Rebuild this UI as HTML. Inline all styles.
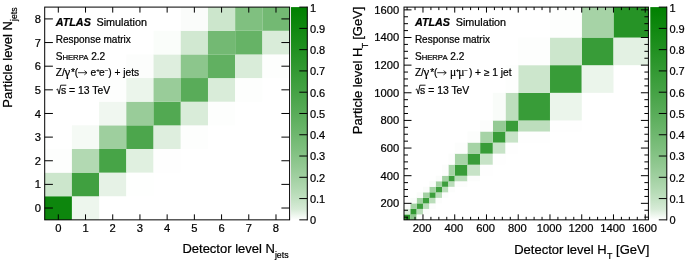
<!DOCTYPE html>
<html><head><meta charset="utf-8"><title>Response matrices</title>
<style>
html,body{margin:0;padding:0;background:#fff;}
body{width:685px;height:262px;overflow:hidden;}
svg{display:block;will-change:transform;font-family:"Liberation Sans",sans-serif;}
text{fill:#000;stroke:#000;stroke-width:0.22px;}
</style></head><body>
<svg width="685" height="262" viewBox="0 0 685 262">
<defs><linearGradient id="g1" x1="0" y1="1" x2="0" y2="0"><stop offset="0.00" stop-color="#ffffff"/><stop offset="0.05" stop-color="#d7ebd7"/><stop offset="0.10" stop-color="#c2e1c2"/><stop offset="0.15" stop-color="#b0d8b0"/><stop offset="0.20" stop-color="#a1d0a1"/><stop offset="0.25" stop-color="#93c993"/><stop offset="0.30" stop-color="#86c386"/><stop offset="0.35" stop-color="#7abd7a"/><stop offset="0.40" stop-color="#6fb76f"/><stop offset="0.45" stop-color="#64b264"/><stop offset="0.50" stop-color="#59ac59"/><stop offset="0.55" stop-color="#4fa74f"/><stop offset="0.60" stop-color="#45a245"/><stop offset="0.65" stop-color="#3c9e3c"/><stop offset="0.70" stop-color="#339933"/><stop offset="0.75" stop-color="#2a952a"/><stop offset="0.80" stop-color="#219021"/><stop offset="0.85" stop-color="#188c18"/><stop offset="0.90" stop-color="#108810"/><stop offset="0.95" stop-color="#088408"/><stop offset="1.00" stop-color="#008000"/></linearGradient></defs>
<rect width="685" height="262" fill="#fff"/>
<rect x="44.70" y="196.21" width="27.26" height="23.69" fill="#0d860d"/>
<rect x="71.91" y="196.21" width="27.26" height="23.69" fill="#edf6ed"/>
<rect x="44.70" y="172.57" width="27.26" height="23.69" fill="#cce6cc"/>
<rect x="71.91" y="172.57" width="27.26" height="23.69" fill="#40a040"/>
<rect x="99.12" y="172.57" width="27.26" height="23.69" fill="#e6f2e6"/>
<rect x="126.33" y="172.57" width="27.26" height="23.69" fill="#fefffe"/>
<rect x="44.70" y="148.93" width="27.26" height="23.69" fill="#fdfefd"/>
<rect x="71.91" y="148.93" width="27.26" height="23.69" fill="#b2d9b2"/>
<rect x="99.12" y="148.93" width="27.26" height="23.69" fill="#47a447"/>
<rect x="126.33" y="148.93" width="27.26" height="23.69" fill="#e0f0e0"/>
<rect x="153.54" y="148.93" width="27.26" height="23.69" fill="#fefefe"/>
<rect x="71.91" y="125.29" width="27.26" height="23.69" fill="#f5faf5"/>
<rect x="99.12" y="125.29" width="27.26" height="23.69" fill="#9ecf9e"/>
<rect x="126.33" y="125.29" width="27.26" height="23.69" fill="#4ca64c"/>
<rect x="153.54" y="125.29" width="27.26" height="23.69" fill="#deeede"/>
<rect x="180.76" y="125.29" width="27.26" height="23.69" fill="#fdfefd"/>
<rect x="99.12" y="101.66" width="27.26" height="23.69" fill="#f0f7f0"/>
<rect x="126.33" y="101.66" width="27.26" height="23.69" fill="#99cc99"/>
<rect x="153.54" y="101.66" width="27.26" height="23.69" fill="#52a952"/>
<rect x="180.76" y="101.66" width="27.26" height="23.69" fill="#d9ecd9"/>
<rect x="207.97" y="101.66" width="27.26" height="23.69" fill="#fdfefd"/>
<rect x="99.12" y="78.02" width="27.26" height="23.69" fill="#fdfefd"/>
<rect x="126.33" y="78.02" width="27.26" height="23.69" fill="#ebf5eb"/>
<rect x="153.54" y="78.02" width="27.26" height="23.69" fill="#99cc99"/>
<rect x="180.76" y="78.02" width="27.26" height="23.69" fill="#59ac59"/>
<rect x="207.97" y="78.02" width="27.26" height="23.69" fill="#d9ecd9"/>
<rect x="235.18" y="78.02" width="27.26" height="23.69" fill="#fdfefd"/>
<rect x="126.33" y="54.38" width="27.26" height="23.69" fill="#fcfdfc"/>
<rect x="153.54" y="54.38" width="27.26" height="23.69" fill="#deeede"/>
<rect x="180.76" y="54.38" width="27.26" height="23.69" fill="#8cc68c"/>
<rect x="207.97" y="54.38" width="27.26" height="23.69" fill="#61b061"/>
<rect x="235.18" y="54.38" width="27.26" height="23.69" fill="#d9ecd9"/>
<rect x="262.39" y="54.38" width="27.26" height="23.69" fill="#fdfefd"/>
<rect x="153.54" y="30.74" width="27.26" height="23.69" fill="#fafdfa"/>
<rect x="180.76" y="30.74" width="27.26" height="23.69" fill="#d1e8d1"/>
<rect x="207.97" y="30.74" width="27.26" height="23.69" fill="#73b973"/>
<rect x="235.18" y="30.74" width="27.26" height="23.69" fill="#66b366"/>
<rect x="262.39" y="30.74" width="27.26" height="23.69" fill="#d9ecd9"/>
<rect x="180.76" y="7.10" width="27.26" height="23.69" fill="#fafcfa"/>
<rect x="207.97" y="7.10" width="27.26" height="23.69" fill="#cce6cc"/>
<rect x="235.18" y="7.10" width="27.26" height="23.69" fill="#80c080"/>
<rect x="262.39" y="7.10" width="27.26" height="23.69" fill="#73b973"/>
<text x="58.31" y="232.2" text-anchor="middle" font-size="11.2">0</text>
<text x="41.10" y="212.13" text-anchor="end" font-size="11.2">0</text>
<text x="85.52" y="232.2" text-anchor="middle" font-size="11.2">1</text>
<text x="41.10" y="188.49" text-anchor="end" font-size="11.2">1</text>
<text x="112.73" y="232.2" text-anchor="middle" font-size="11.2">2</text>
<text x="41.10" y="164.85" text-anchor="end" font-size="11.2">2</text>
<text x="139.94" y="232.2" text-anchor="middle" font-size="11.2">3</text>
<text x="41.10" y="141.21" text-anchor="end" font-size="11.2">3</text>
<text x="167.15" y="232.2" text-anchor="middle" font-size="11.2">4</text>
<text x="41.10" y="117.57" text-anchor="end" font-size="11.2">4</text>
<text x="194.36" y="232.2" text-anchor="middle" font-size="11.2">5</text>
<text x="41.10" y="93.94" text-anchor="end" font-size="11.2">5</text>
<text x="221.57" y="232.2" text-anchor="middle" font-size="11.2">6</text>
<text x="41.10" y="70.30" text-anchor="end" font-size="11.2">6</text>
<text x="248.78" y="232.2" text-anchor="middle" font-size="11.2">7</text>
<text x="41.10" y="46.66" text-anchor="end" font-size="11.2">7</text>
<text x="275.99" y="232.2" text-anchor="middle" font-size="11.2">8</text>
<text x="41.10" y="23.02" text-anchor="end" font-size="11.2">8</text>
<rect x="44.70" y="7.10" width="244.90" height="212.75" fill="none" stroke="#000" stroke-width="1"/>
<rect x="291.00" y="7.10" width="16.30" height="212.75" fill="url(#g1)"/>
<line x1="307.30" y1="6.60" x2="307.30" y2="220.35" stroke="#000" stroke-width="1"/>
<line x1="299.30" y1="219.85" x2="307.30" y2="219.85" stroke="#000" stroke-width="1"/>
<text x="309.90" y="224.25" font-size="11.0">0</text>
<line x1="299.30" y1="198.57" x2="307.30" y2="198.57" stroke="#000" stroke-width="1"/>
<text x="309.90" y="202.97" font-size="11.0">0.1</text>
<line x1="299.30" y1="177.30" x2="307.30" y2="177.30" stroke="#000" stroke-width="1"/>
<text x="309.90" y="181.70" font-size="11.0">0.2</text>
<line x1="299.30" y1="156.02" x2="307.30" y2="156.02" stroke="#000" stroke-width="1"/>
<text x="309.90" y="160.42" font-size="11.0">0.3</text>
<line x1="299.30" y1="134.75" x2="307.30" y2="134.75" stroke="#000" stroke-width="1"/>
<text x="309.90" y="139.15" font-size="11.0">0.4</text>
<line x1="299.30" y1="113.47" x2="307.30" y2="113.47" stroke="#000" stroke-width="1"/>
<text x="309.90" y="117.88" font-size="11.0">0.5</text>
<line x1="299.30" y1="92.20" x2="307.30" y2="92.20" stroke="#000" stroke-width="1"/>
<text x="309.90" y="96.60" font-size="11.0">0.6</text>
<line x1="299.30" y1="70.92" x2="307.30" y2="70.92" stroke="#000" stroke-width="1"/>
<text x="309.90" y="75.32" font-size="11.0">0.7</text>
<line x1="299.30" y1="49.65" x2="307.30" y2="49.65" stroke="#000" stroke-width="1"/>
<text x="309.90" y="54.05" font-size="11.0">0.8</text>
<line x1="299.30" y1="28.38" x2="307.30" y2="28.38" stroke="#000" stroke-width="1"/>
<text x="309.90" y="32.77" font-size="11.0">0.9</text>
<line x1="299.30" y1="7.10" x2="307.30" y2="7.10" stroke="#000" stroke-width="1"/>
<text x="309.90" y="11.50" font-size="11.0">1</text>
<text x="288.60" y="253.2" text-anchor="end" font-size="13">Detector level N<tspan font-size="8.8" dy="4.5">jets</tspan></text>
<text transform="translate(11.8,7.30) rotate(-90)" text-anchor="end" font-size="13">Particle level N<tspan font-size="8.8" dy="4.8">jets</tspan></text>
<text x="55.70" y="26" font-size="10.8"><tspan font-weight="bold" font-style="italic">ATLAS</tspan><tspan dx="5.6">Simulation</tspan></text>
<text x="55.70" y="43" font-size="10">Response matrix</text>
<text x="55.70" y="60.4" font-size="10.1">S<tspan font-size="7.7">HERPA</tspan> 2.2</text>
<g font-size="10.2"><text x="55.70" y="75.8">Z/</text><text x="64.40" y="75.8" font-family="Liberation Serif" font-size="13">γ</text><text x="71.00" y="75.8">*</text><text x="74.70" y="75.8">(</text><path d="M78.00 72.70H87.00M84.40 70.60L87.00 72.70L84.40 74.80" fill="none" stroke="#000" stroke-width="0.8"/><text x="90.60" y="75.8">e</text><text x="96.20" y="71.6" font-size="6">+</text><text x="99.00" y="75.8">e</text><text x="104.70" y="71.6" font-size="6">−</text><text x="108.30" y="75.8">) + jets</text></g>
<text x="60.90" y="94.0" font-size="10.4">s = 13 TeV</text>
<path d="M56.50 89.6 L57.60 89 L59.10 94.0 L60.70 85.2 L66.30 85.2" fill="none" stroke="#000" stroke-width="0.9"/>
<rect x="404.00" y="214.39" width="6.32" height="5.51" fill="#269326"/>
<rect x="410.27" y="214.39" width="6.40" height="5.51" fill="#8cc68c"/>
<rect x="416.62" y="214.39" width="6.40" height="5.51" fill="#fcfdfc"/>
<rect x="410.27" y="208.86" width="6.40" height="5.58" fill="#339933"/>
<rect x="404.00" y="208.86" width="6.32" height="5.58" fill="#d9ecd9"/>
<rect x="416.62" y="208.86" width="6.40" height="5.58" fill="#baddba"/>
<rect x="422.97" y="208.86" width="6.40" height="5.58" fill="#fcfdfc"/>
<rect x="416.62" y="203.34" width="6.40" height="5.58" fill="#3d9e3d"/>
<rect x="410.27" y="203.34" width="6.40" height="5.58" fill="#a3d1a3"/>
<rect x="422.97" y="203.34" width="6.40" height="5.58" fill="#baddba"/>
<rect x="404.00" y="203.34" width="6.32" height="5.58" fill="#fafcfa"/>
<rect x="429.32" y="203.34" width="6.40" height="5.58" fill="#fcfdfc"/>
<rect x="422.97" y="197.81" width="6.40" height="5.58" fill="#3d9e3d"/>
<rect x="416.62" y="197.81" width="6.40" height="5.58" fill="#a3d1a3"/>
<rect x="429.32" y="197.81" width="6.40" height="5.58" fill="#baddba"/>
<rect x="410.27" y="197.81" width="6.40" height="5.58" fill="#fafcfa"/>
<rect x="435.67" y="197.81" width="6.40" height="5.58" fill="#fcfdfc"/>
<rect x="429.32" y="192.28" width="6.40" height="5.58" fill="#3d9e3d"/>
<rect x="422.97" y="192.28" width="6.40" height="5.58" fill="#a3d1a3"/>
<rect x="435.67" y="192.28" width="6.40" height="5.58" fill="#baddba"/>
<rect x="416.62" y="192.28" width="6.40" height="5.58" fill="#fafcfa"/>
<rect x="442.02" y="192.28" width="6.40" height="5.58" fill="#fcfdfc"/>
<rect x="435.67" y="186.75" width="6.40" height="5.58" fill="#3d9e3d"/>
<rect x="429.32" y="186.75" width="6.40" height="5.58" fill="#a3d1a3"/>
<rect x="442.02" y="186.75" width="6.40" height="5.58" fill="#baddba"/>
<rect x="422.97" y="186.75" width="6.40" height="5.58" fill="#fafcfa"/>
<rect x="448.37" y="186.75" width="6.40" height="5.58" fill="#fcfdfc"/>
<rect x="442.02" y="181.22" width="6.40" height="5.58" fill="#3d9e3d"/>
<rect x="435.67" y="181.22" width="6.40" height="5.58" fill="#a3d1a3"/>
<rect x="448.37" y="181.22" width="6.40" height="5.58" fill="#baddba"/>
<rect x="429.32" y="181.22" width="6.40" height="5.58" fill="#fafcfa"/>
<rect x="454.72" y="181.22" width="12.75" height="5.58" fill="#fcfdfc"/>
<rect x="448.37" y="175.70" width="6.40" height="5.58" fill="#3d9e3d"/>
<rect x="442.02" y="175.70" width="6.40" height="5.58" fill="#a3d1a3"/>
<rect x="454.72" y="175.70" width="12.75" height="5.58" fill="#baddba"/>
<rect x="435.67" y="175.70" width="6.40" height="5.58" fill="#fafcfa"/>
<rect x="467.42" y="175.70" width="12.75" height="5.58" fill="#fcfdfc"/>
<rect x="454.72" y="164.64" width="12.75" height="11.11" fill="#389c38"/>
<rect x="448.37" y="164.64" width="6.40" height="11.11" fill="#a6d3a6"/>
<rect x="467.42" y="164.64" width="12.75" height="11.11" fill="#c7e3c7"/>
<rect x="442.02" y="164.64" width="6.40" height="11.11" fill="#fcfdfc"/>
<rect x="480.12" y="164.64" width="12.75" height="11.11" fill="#fefefe"/>
<rect x="467.42" y="153.59" width="12.75" height="11.11" fill="#389c38"/>
<rect x="454.72" y="153.59" width="12.75" height="11.11" fill="#a6d3a6"/>
<rect x="480.12" y="153.59" width="12.75" height="11.11" fill="#c7e3c7"/>
<rect x="448.37" y="153.59" width="6.40" height="11.11" fill="#fcfdfc"/>
<rect x="492.82" y="153.59" width="12.75" height="11.11" fill="#fefefe"/>
<rect x="480.12" y="142.53" width="12.75" height="11.11" fill="#389c38"/>
<rect x="467.42" y="142.53" width="12.75" height="11.11" fill="#a6d3a6"/>
<rect x="492.82" y="142.53" width="12.75" height="11.11" fill="#c7e3c7"/>
<rect x="454.72" y="142.53" width="12.75" height="11.11" fill="#fcfdfc"/>
<rect x="505.52" y="142.53" width="12.75" height="11.11" fill="#fefefe"/>
<rect x="492.82" y="131.47" width="12.75" height="11.11" fill="#389c38"/>
<rect x="480.12" y="131.47" width="12.75" height="11.11" fill="#a6d3a6"/>
<rect x="505.52" y="131.47" width="12.75" height="11.11" fill="#c7e3c7"/>
<rect x="467.42" y="131.47" width="12.75" height="11.11" fill="#fcfdfc"/>
<rect x="518.22" y="131.47" width="31.80" height="11.11" fill="#fefefe"/>
<rect x="505.52" y="120.42" width="12.75" height="11.11" fill="#389c38"/>
<rect x="492.82" y="120.42" width="12.75" height="11.11" fill="#94ca94"/>
<rect x="518.22" y="120.42" width="31.80" height="11.11" fill="#bddebd"/>
<rect x="480.12" y="120.42" width="12.75" height="11.11" fill="#fcfdfc"/>
<rect x="549.97" y="120.42" width="31.80" height="11.11" fill="#fefefe"/>
<rect x="518.22" y="92.78" width="31.80" height="27.69" fill="#389c38"/>
<rect x="505.52" y="92.78" width="12.75" height="27.69" fill="#bddebd"/>
<rect x="549.97" y="92.78" width="31.80" height="27.69" fill="#ebf5eb"/>
<rect x="492.82" y="92.78" width="12.75" height="27.69" fill="#f9fcf9"/>
<rect x="549.97" y="65.14" width="31.80" height="27.69" fill="#389c38"/>
<rect x="518.22" y="65.14" width="31.80" height="27.69" fill="#cce6cc"/>
<rect x="581.72" y="65.14" width="31.80" height="27.69" fill="#ebf5eb"/>
<rect x="505.52" y="65.14" width="12.75" height="27.69" fill="#fdfefd"/>
<rect x="581.72" y="37.50" width="31.80" height="27.69" fill="#389c38"/>
<rect x="549.97" y="37.50" width="31.80" height="27.69" fill="#cce6cc"/>
<rect x="613.47" y="37.50" width="34.98" height="27.69" fill="#e3f1e3"/>
<rect x="518.22" y="37.50" width="31.80" height="27.69" fill="#fdfefd"/>
<rect x="613.47" y="7.10" width="34.98" height="30.45" fill="#269326"/>
<rect x="581.72" y="7.10" width="31.80" height="30.45" fill="#a6d3a6"/>
<rect x="549.97" y="7.10" width="31.80" height="30.45" fill="#fdfefd"/>
<text x="422.17" y="231.9" text-anchor="middle" font-size="11.2">200</text>
<text x="399.20" y="207.14" text-anchor="end" font-size="11.2">200</text>
<text x="453.92" y="231.9" text-anchor="middle" font-size="11.2">400</text>
<text x="399.20" y="179.50" text-anchor="end" font-size="11.2">400</text>
<text x="485.67" y="231.9" text-anchor="middle" font-size="11.2">600</text>
<text x="399.20" y="151.86" text-anchor="end" font-size="11.2">600</text>
<text x="517.42" y="231.9" text-anchor="middle" font-size="11.2">800</text>
<text x="399.20" y="124.22" text-anchor="end" font-size="11.2">800</text>
<text x="549.17" y="231.9" text-anchor="middle" font-size="11.2">1000</text>
<text x="399.20" y="96.58" text-anchor="end" font-size="11.2">1000</text>
<text x="580.92" y="231.9" text-anchor="middle" font-size="11.2">1200</text>
<text x="399.20" y="68.94" text-anchor="end" font-size="11.2">1200</text>
<text x="612.67" y="231.9" text-anchor="middle" font-size="11.2">1400</text>
<text x="399.20" y="41.30" text-anchor="end" font-size="11.2">1400</text>
<text x="644.42" y="231.9" text-anchor="middle" font-size="11.2">1600</text>
<text x="399.20" y="13.66" text-anchor="end" font-size="11.2">1600</text>
<rect x="404.00" y="7.10" width="244.40" height="212.75" fill="none" stroke="#000" stroke-width="1"/>
<rect x="650.30" y="7.10" width="16.50" height="212.75" fill="url(#g1)"/>
<line x1="666.80" y1="6.60" x2="666.80" y2="220.35" stroke="#000" stroke-width="1"/>
<line x1="658.80" y1="219.85" x2="666.80" y2="219.85" stroke="#000" stroke-width="1"/>
<text x="669.40" y="224.25" font-size="11.0">0</text>
<line x1="658.80" y1="198.57" x2="666.80" y2="198.57" stroke="#000" stroke-width="1"/>
<text x="669.40" y="202.97" font-size="11.0">0.1</text>
<line x1="658.80" y1="177.30" x2="666.80" y2="177.30" stroke="#000" stroke-width="1"/>
<text x="669.40" y="181.70" font-size="11.0">0.2</text>
<line x1="658.80" y1="156.02" x2="666.80" y2="156.02" stroke="#000" stroke-width="1"/>
<text x="669.40" y="160.42" font-size="11.0">0.3</text>
<line x1="658.80" y1="134.75" x2="666.80" y2="134.75" stroke="#000" stroke-width="1"/>
<text x="669.40" y="139.15" font-size="11.0">0.4</text>
<line x1="658.80" y1="113.47" x2="666.80" y2="113.47" stroke="#000" stroke-width="1"/>
<text x="669.40" y="117.88" font-size="11.0">0.5</text>
<line x1="658.80" y1="92.20" x2="666.80" y2="92.20" stroke="#000" stroke-width="1"/>
<text x="669.40" y="96.60" font-size="11.0">0.6</text>
<line x1="658.80" y1="70.92" x2="666.80" y2="70.92" stroke="#000" stroke-width="1"/>
<text x="669.40" y="75.32" font-size="11.0">0.7</text>
<line x1="658.80" y1="49.65" x2="666.80" y2="49.65" stroke="#000" stroke-width="1"/>
<text x="669.40" y="54.05" font-size="11.0">0.8</text>
<line x1="658.80" y1="28.38" x2="666.80" y2="28.38" stroke="#000" stroke-width="1"/>
<text x="669.40" y="32.77" font-size="11.0">0.9</text>
<line x1="658.80" y1="7.10" x2="666.80" y2="7.10" stroke="#000" stroke-width="1"/>
<text x="669.40" y="11.50" font-size="11.0">1</text>
<text x="649.30" y="254" text-anchor="end" font-size="13">Detector level H<tspan font-size="8.8" dy="5.4" dx="0.4">T</tspan><tspan dy="-5.4"> [GeV]</tspan></text>
<text transform="translate(362.2,6.60) rotate(-90)" text-anchor="end" font-size="13">Particle level H<tspan font-size="8.8" dy="5.4" dx="-0.6">T</tspan><tspan dy="-5.4" dx="-0.7"> [GeV]</tspan></text>
<text x="414.90" y="26" font-size="10.8"><tspan font-weight="bold" font-style="italic">ATLAS</tspan><tspan dx="5.6">Simulation</tspan></text>
<text x="414.90" y="43" font-size="10">Response matrix</text>
<text x="414.90" y="60.4" font-size="10.1">S<tspan font-size="7.7">HERPA</tspan> 2.2</text>
<g font-size="10.2"><text x="414.90" y="75.8">Z/</text><text x="423.60" y="75.8" font-family="Liberation Serif" font-size="13">γ</text><text x="430.20" y="75.8">*</text><text x="433.90" y="75.8">(</text><path d="M437.20 72.70H446.20M443.60 70.60L446.20 72.70L443.60 74.80" fill="none" stroke="#000" stroke-width="0.8"/><text x="449.90" y="75.8" font-family="Liberation Serif" font-size="11.5">μ</text><text x="455.90" y="71.6" font-size="6">+</text><text x="458.20" y="75.8" font-family="Liberation Serif" font-size="11.5">μ</text><text x="464.20" y="71.6" font-size="6">−</text><text x="468.90" y="75.8">) + ≥ 1 jet</text></g>
<text x="420.10" y="94.0" font-size="10.4">s = 13 TeV</text>
<path d="M415.70 89.6 L416.80 89 L418.30 94.0 L419.90 85.2 L425.50 85.2" fill="none" stroke="#000" stroke-width="0.9"/>
<path d="M58.31 219.85L58.31 214.35M58.31 7.10L58.31 12.60M44.70 208.03L52.90 208.03M289.60 208.03L281.40 208.03M85.52 219.85L85.52 214.35M85.52 7.10L85.52 12.60M44.70 184.39L52.90 184.39M289.60 184.39L281.40 184.39M112.73 219.85L112.73 214.35M112.73 7.10L112.73 12.60M44.70 160.75L52.90 160.75M289.60 160.75L281.40 160.75M139.94 219.85L139.94 214.35M139.94 7.10L139.94 12.60M44.70 137.11L52.90 137.11M289.60 137.11L281.40 137.11M167.15 219.85L167.15 214.35M167.15 7.10L167.15 12.60M44.70 113.47L52.90 113.47M289.60 113.47L281.40 113.47M194.36 219.85L194.36 214.35M194.36 7.10L194.36 12.60M44.70 89.84L52.90 89.84M289.60 89.84L281.40 89.84M221.57 219.85L221.57 214.35M221.57 7.10L221.57 12.60M44.70 66.20L52.90 66.20M289.60 66.20L281.40 66.20M248.78 219.85L248.78 214.35M248.78 7.10L248.78 12.60M44.70 42.56L52.90 42.56M289.60 42.56L281.40 42.56M275.99 219.85L275.99 214.35M275.99 7.10L275.99 12.60M44.70 18.92L52.90 18.92M289.60 18.92L281.40 18.92M407.10 219.85L407.10 216.85M407.10 7.10L407.10 10.10M404.00 217.16L408.00 217.16M648.40 217.16L644.40 217.16M415.03 219.85L415.03 216.85M415.03 7.10L415.03 10.10M404.00 210.25L408.00 210.25M648.40 210.25L644.40 210.25M422.97 219.85L422.97 214.35M422.97 7.10L422.97 12.60M404.00 203.34L411.50 203.34M648.40 203.34L640.90 203.34M430.91 219.85L430.91 216.85M430.91 7.10L430.91 10.10M404.00 196.43L408.00 196.43M648.40 196.43L644.40 196.43M438.85 219.85L438.85 216.85M438.85 7.10L438.85 10.10M404.00 189.52L408.00 189.52M648.40 189.52L644.40 189.52M446.78 219.85L446.78 216.85M446.78 7.10L446.78 10.10M404.00 182.61L408.00 182.61M648.40 182.61L644.40 182.61M454.72 219.85L454.72 214.35M454.72 7.10L454.72 12.60M404.00 175.70L411.50 175.70M648.40 175.70L640.90 175.70M462.66 219.85L462.66 216.85M462.66 7.10L462.66 10.10M404.00 168.79L408.00 168.79M648.40 168.79L644.40 168.79M470.60 219.85L470.60 216.85M470.60 7.10L470.60 10.10M404.00 161.88L408.00 161.88M648.40 161.88L644.40 161.88M478.53 219.85L478.53 216.85M478.53 7.10L478.53 10.10M404.00 154.97L408.00 154.97M648.40 154.97L644.40 154.97M486.47 219.85L486.47 214.35M486.47 7.10L486.47 12.60M404.00 148.06L411.50 148.06M648.40 148.06L640.90 148.06M494.41 219.85L494.41 216.85M494.41 7.10L494.41 10.10M404.00 141.15L408.00 141.15M648.40 141.15L644.40 141.15M502.35 219.85L502.35 216.85M502.35 7.10L502.35 10.10M404.00 134.24L408.00 134.24M648.40 134.24L644.40 134.24M510.29 219.85L510.29 216.85M510.29 7.10L510.29 10.10M404.00 127.33L408.00 127.33M648.40 127.33L644.40 127.33M518.22 219.85L518.22 214.35M518.22 7.10L518.22 12.60M404.00 120.42L411.50 120.42M648.40 120.42L640.90 120.42M526.16 219.85L526.16 216.85M526.16 7.10L526.16 10.10M404.00 113.51L408.00 113.51M648.40 113.51L644.40 113.51M534.10 219.85L534.10 216.85M534.10 7.10L534.10 10.10M404.00 106.60L408.00 106.60M648.40 106.60L644.40 106.60M542.04 219.85L542.04 216.85M542.04 7.10L542.04 10.10M404.00 99.69L408.00 99.69M648.40 99.69L644.40 99.69M549.97 219.85L549.97 214.35M549.97 7.10L549.97 12.60M404.00 92.78L411.50 92.78M648.40 92.78L640.90 92.78M557.91 219.85L557.91 216.85M557.91 7.10L557.91 10.10M404.00 85.87L408.00 85.87M648.40 85.87L644.40 85.87M565.85 219.85L565.85 216.85M565.85 7.10L565.85 10.10M404.00 78.96L408.00 78.96M648.40 78.96L644.40 78.96M573.79 219.85L573.79 216.85M573.79 7.10L573.79 10.10M404.00 72.05L408.00 72.05M648.40 72.05L644.40 72.05M581.72 219.85L581.72 214.35M581.72 7.10L581.72 12.60M404.00 65.14L411.50 65.14M648.40 65.14L640.90 65.14M589.66 219.85L589.66 216.85M589.66 7.10L589.66 10.10M404.00 58.23L408.00 58.23M648.40 58.23L644.40 58.23M597.60 219.85L597.60 216.85M597.60 7.10L597.60 10.10M404.00 51.32L408.00 51.32M648.40 51.32L644.40 51.32M605.54 219.85L605.54 216.85M605.54 7.10L605.54 10.10M404.00 44.41L408.00 44.41M648.40 44.41L644.40 44.41M613.47 219.85L613.47 214.35M613.47 7.10L613.47 12.60M404.00 37.50L411.50 37.50M648.40 37.50L640.90 37.50M621.41 219.85L621.41 216.85M621.41 7.10L621.41 10.10M404.00 30.59L408.00 30.59M648.40 30.59L644.40 30.59M629.35 219.85L629.35 216.85M629.35 7.10L629.35 10.10M404.00 23.68L408.00 23.68M648.40 23.68L644.40 23.68M637.29 219.85L637.29 216.85M637.29 7.10L637.29 10.10M404.00 16.77L408.00 16.77M648.40 16.77L644.40 16.77M645.22 219.85L645.22 214.35M645.22 7.10L645.22 12.60M404.00 9.86L411.50 9.86M648.40 9.86L640.90 9.86" stroke="#000" stroke-width="1" fill="none"/>
</svg>
</body></html>
